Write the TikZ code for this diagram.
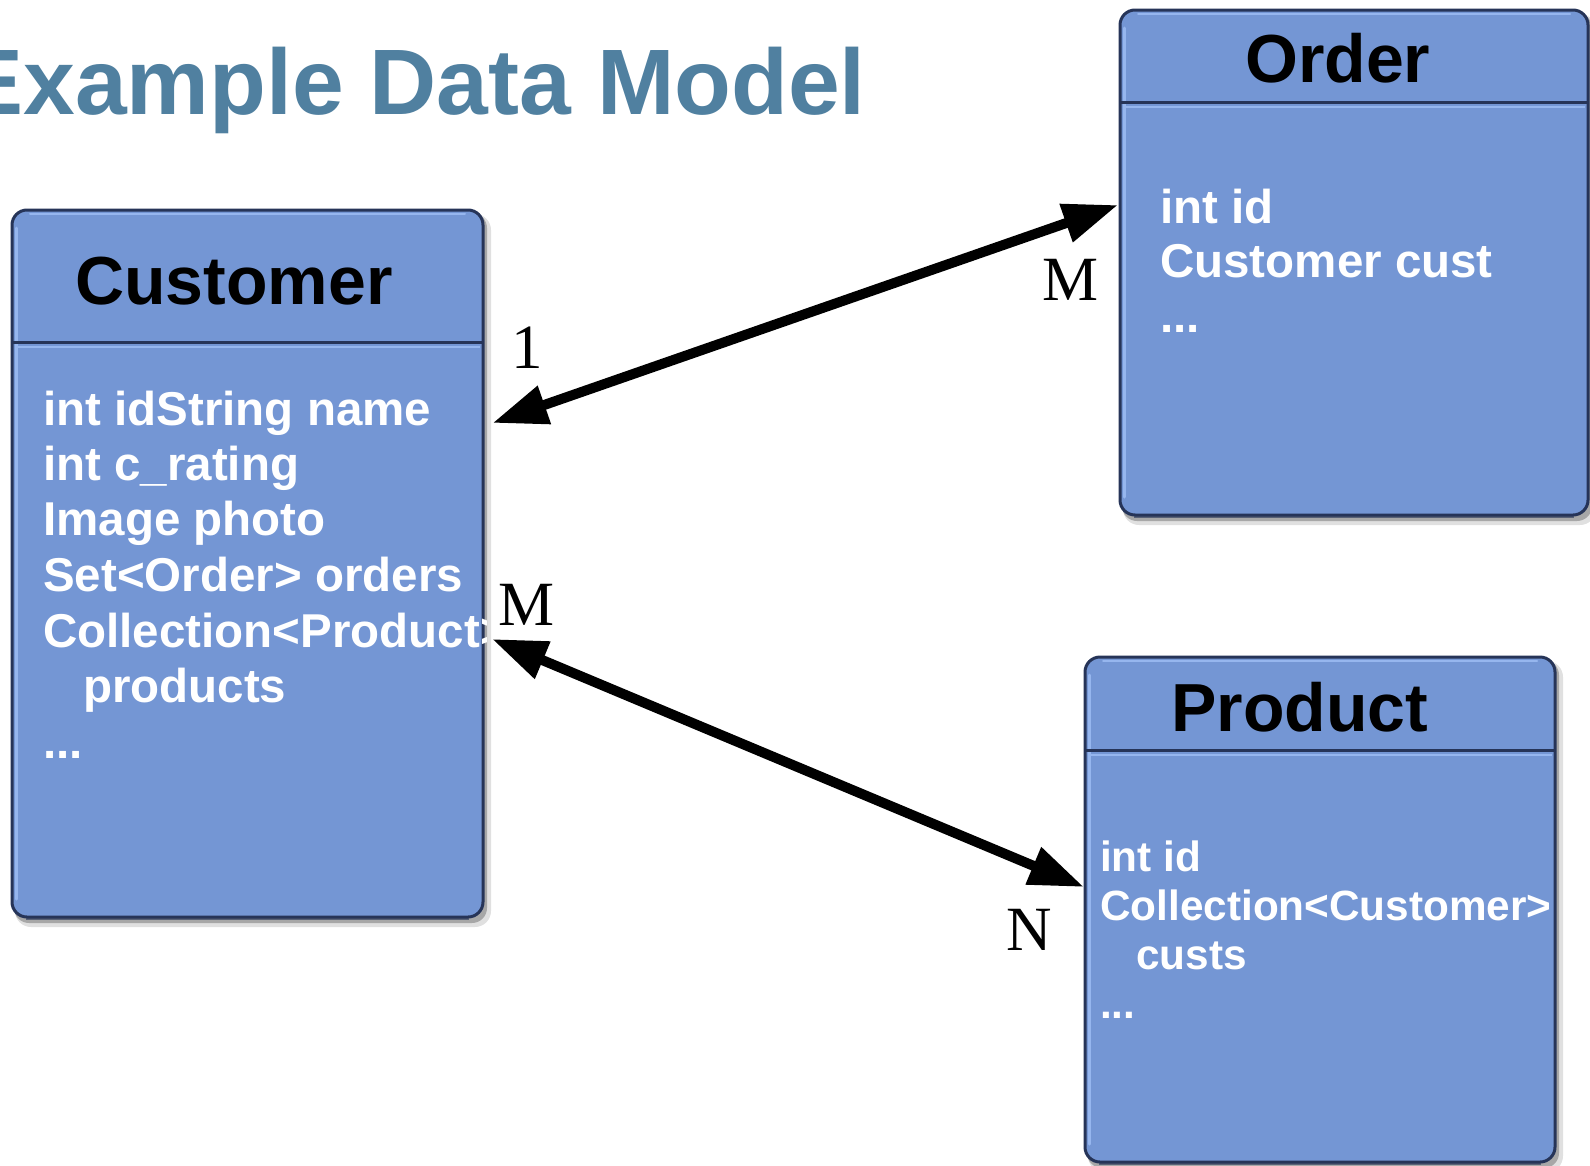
\documentclass[tikz,border=0pt]{standalone}
\usepackage{fontspec}
\setmainfont{Liberation Serif}
\setsansfont{Liberation Sans}
\usetikzlibrary{arrows.meta,calc}
\definecolor{boxfill}{RGB}{116,150,212}
\definecolor{boxedge}{RGB}{38,52,88}
\definecolor{boxlight}{RGB}{150,182,238}
\definecolor{titleblue}{RGB}{80,128,160}
\newcommand\umlshape[6]{%
  % name, x1, y1, x2, y2, separator y
  \fill[black,opacity=0.12,rounded corners=16] (#2+3,#3+4) rectangle (#4+8,#5+10);
  \fill[black,opacity=0.25,rounded corners=15] (#2+2,#3+3) rectangle (#4+4,#5+6);
  \node[umlbox,minimum width=#4-#2,minimum height=#5-#3] (#1) at ({(#2+#4)/2},{(#3+#5)/2}) {};
  \draw[boxlight,line width=3pt,line cap=round] (#2+4,#3+18) -- (#2+4,#5-18);
  \draw[boxlight,line width=2pt,line cap=round] (#2+18,#3+4) -- (#4-18,#3+4);
  \draw[boxedge,line width=3pt] (#2,#6) -- (#4,#6);
  \draw[boxlight,line width=2pt] (#2+3,#6+5) -- (#4-3,#6+5);
  \draw[boxedge,line width=3pt,rounded corners=15] (#2,#3) rectangle (#4,#5);
  \draw[boxedge,line width=2pt,opacity=0.6,rounded corners=14] (#2+14,#5+1.5) -- (#4-14,#5+1.5);
}
\begin{document}
\begin{tikzpicture}[x=1pt,y=-1pt,
  umlbox/.style={fill=boxfill,rounded corners=15,inner sep=0pt,outer sep=0pt,draw=none},
  header/.style={anchor=base west,inner sep=0pt,text=black,font=\sffamily\bfseries\fontsize{68}{80}\selectfont},
  body/.style={anchor=base west,inner sep=0pt,text=white,font=\sffamily\bfseries\fontsize{47.5}{55}\selectfont},
  smallbody/.style={anchor=base west,inner sep=0pt,text=white,font=\sffamily\bfseries\fontsize{42.3}{48}\selectfont},
  lab/.style={anchor=base west,inner sep=0pt,text=black,font=\fontsize{63}{70}\selectfont},
  conn/.style={line width=10pt,{Triangle[length=55pt,width=38pt]}-{Triangle[length=55pt,width=38pt]}}]
\useasboundingbox (0,0) rectangle (1590,1165);
\fill[white] (0,0) rectangle (1590,1165);

% title
\node[anchor=base east,inner sep=0pt,text=titleblue,font=\sffamily\bfseries\fontsize{93}{100}\selectfont] (title) at (866,114) {Example Data Model};

% boxes
\umlshape{cust}{12}{210}{483}{917}{342}
\umlshape{order}{1120}{10}{1588}{515}{102}
\umlshape{prod}{1085}{657}{1555}{1162}{750}

% Customer texts
\node[header] (custH) at (75,304) {Customer};
\begin{scope}
\clip[rounded corners=15] (14,212) rectangle (486,915);
\node[body] (c1) at (43,425) {int idString name};
\node[body] (c2) at (43,480) {int c\_rating};
\node[body] (c3) at (43,535) {Image photo};
\node[body] (c4) at (43,591) {Set<Order> orders};
\node[body] (c5) at (43,647) {Collection<Product>};
\node[body] (c6) at (83,702) {products};
\node[body] (c7) at (43,758) {...};
\end{scope}

% Order texts
\node[header] (orderH) at (1245,82) {Order};
\node[body] (o1) at (1160,223) {int id};
\node[body] (o2) at (1160,277) {Customer cust};
\node[body] (o3) at (1160,332) {...};

% Product texts
\node[header] (prodH) at (1171,731) {Product};
\node[smallbody] (p1) at (1100,871) {int id};
\node[smallbody] (p2) at (1100,920) {Collection<Customer>};
\node[smallbody] (p3) at (1136,969) {custs};
\node[smallbody] (p4) at (1100,1018) {...};

% connectors
\coordinate (co1) at (492.5,423);
\coordinate (co2) at (1118,205);
\coordinate (cp1) at (492,639);
\coordinate (cp2) at (1084,887);
\draw[conn] (co1) -- (co2);
\draw[conn] (cp1) -- (cp2);

% multiplicities
\node[lab] (l1) at (511,368) {1};
\node[lab] (l2) at (1042,300) {M};
\node[lab] (l3) at (498,625) {M};
\node[lab] (l4) at (1006,950) {N};
\end{tikzpicture}
\end{document}
